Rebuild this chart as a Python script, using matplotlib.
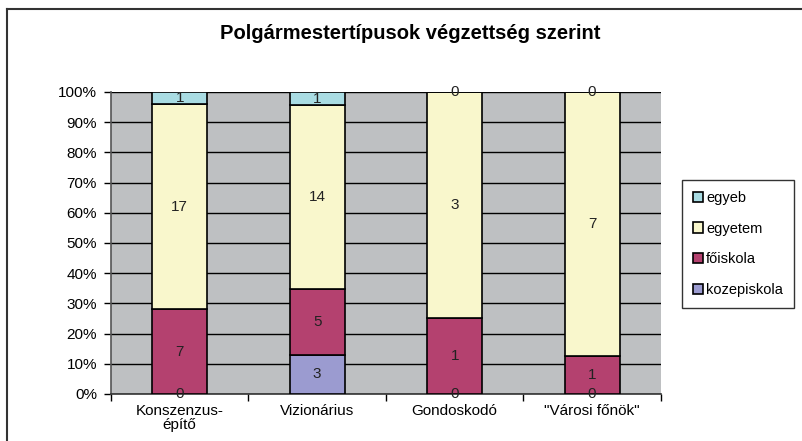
import matplotlib
matplotlib.use("Agg")
import matplotlib.pyplot as plt
from matplotlib.lines import Line2D
from matplotlib.ticker import FixedLocator, PercentFormatter
import numpy as np

# --- data ----------------------------------------------------------------- #
categories = ["Konszenzus-\népítő", "Vizionárius", "Gondoskodó", "\"Városi főnök\""]
series_names = ["kozepiskola", "főiskola", "egyetem", "egyeb"]
kozepiskola = [0, 3, 0, 0]
foiskola = [7, 5, 1, 1]
egyetem = [17, 14, 3, 7]
egyeb = [1, 1, 0, 0]
colors = ["#9B9BD0", "#B4416F", "#F9F7CC", "#A9DCE3"]

plt.rcParams["font.family"] = ["Liberation Sans", "DejaVu Sans"]

counts = np.array([kozepiskola, foiskola, egyetem, egyeb], dtype=float)
totals = counts.sum(axis=0)
shares = counts / totals * 100

fig = plt.figure(figsize=(8.02, 4.41), dpi=100)
ax = fig.add_axes([0.1384, 0.1066, 0.6856, 0.6848])
ax.set_facecolor("#BEC0C2")

x = np.arange(len(categories))
bottom = np.zeros(len(categories))
handles = []
for name, vals, share, col in zip(series_names, counts, shares, colors):
    bars = ax.bar(x, share, bottom=bottom, width=0.4, color=col,
                  edgecolor="black", linewidth=1.2, label=name, zorder=3)
    handles.append(bars)
    for xi, b, s, v in zip(x, bottom, share, vals):
        ax.text(xi, b + s / 2, f"{int(v)}", ha="center", va="center",
                fontsize=11, color="#222222", zorder=4)
    bottom += share

ax.set_xlim(-0.5, len(categories) - 0.5)
ax.set_ylim(0, 100)
ax.set_yticks(range(0, 101, 10))
ax.yaxis.set_major_formatter(PercentFormatter(decimals=0))
ax.yaxis.grid(True, color="black", linewidth=1, zorder=1)
ax.set_axisbelow(True)

ax.set_xticks(x)
ax.set_xticklabels(categories, fontsize=11, linespacing=1.0)
ax.tick_params(axis="x", length=0, pad=7)
ax.xaxis.set_minor_locator(FixedLocator(np.arange(-0.5, len(categories), 1)))
ax.tick_params(axis="x", which="minor", length=5, width=1, direction="out")
ax.tick_params(axis="y", length=5, width=1, labelsize=11, pad=5)

for side in ["top", "right"]:
    ax.spines[side].set_visible(False)
ax.spines["left"].set_color("#555555")
ax.spines["bottom"].set_color("#333333")
ax.spines["left"].set_linewidth(1.2)
ax.spines["bottom"].set_linewidth(1.2)

fig.text(0.511, 0.925, "Polgármestertípusok végzettség szerint",
         ha="center", va="center", fontsize=14.5, fontweight="bold")

leg = fig.legend(handles[::-1], series_names[::-1], loc="upper left",
                 bbox_to_anchor=(682 / 802, 1 - 180 / 441), borderaxespad=0,
                 fontsize=10.5, handlelength=0.7, handleheight=0.7,
                 handletextpad=0.2, labelspacing=1.15, borderpad=0.75,
                 fancybox=False, frameon=True, edgecolor="black")
leg.get_frame().set_linewidth(1)
for patch in leg.get_patches():
    patch.set_edgecolor("black")
    patch.set_linewidth(1.2)

# chart frame: left and top edges
fig.add_artist(Line2D([7 / 802, 7 / 802], [0, 1 - 9 / 441],
                      color="#333333", linewidth=1.5))
fig.add_artist(Line2D([7 / 802, 1], [1 - 9 / 441, 1 - 9 / 441],
                      color="#333333", linewidth=1.5))

fig.savefig("out.png", dpi=100)
